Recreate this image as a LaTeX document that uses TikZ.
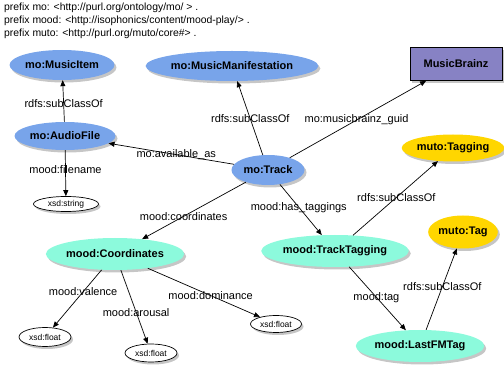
\documentclass[tikz,border=0pt]{standalone}
\usepackage{fontspec}
\setmainfont{Liberation Sans}
\usetikzlibrary{positioning,arrows.meta,shapes.geometric,shadows}
\definecolor{moblue}{RGB}{120,164,234}
\definecolor{moodmint}{RGB}{140,250,220}
\definecolor{mutogold}{RGB}{255,214,0}
\definecolor{mbpurple}{RGB}{135,130,196}

\begin{document}
\begin{tikzpicture}[
  x=1pt, y=-1pt,
  every node/.style={font=\fontsize{11}{13}\selectfont},
  dropsh/.style={drop shadow={shadow xshift=2pt, shadow yshift=-2.5pt, opacity=0.45}},
  cls/.style={ellipse, inner sep=0pt, font=\fontsize{11}{13}\selectfont\bfseries, dropsh},
  mocls/.style={cls, fill=moblue},
  moodcls/.style={cls, fill=moodmint},
  mutocls/.style={cls, fill=mutogold},
  lit/.style={ellipse, draw, fill=white, inner sep=0pt, line width=0.7pt,
              font=\fontsize{8.5}{10}\selectfont, dropsh},
  ext/.style={rectangle, draw, fill=mbpurple, inner sep=0pt, line width=0.7pt,
              font=\fontsize{11}{13}\selectfont\bfseries, dropsh},
  rel/.style={-{Triangle[length=6pt,width=5pt]}, line width=0.7pt},
  lbl/.style={inner sep=0pt},
  pfx/.style={anchor=west, inner sep=0pt, font=\fontsize{10.4}{12}\selectfont}
]
  \useasboundingbox (0,0) rectangle (504,366);

  % prefixes
  \node[pfx] (pmo)   at (4,8)  {prefix mo: <http://purl.org/ontology/mo/ > .};
  \node[pfx] (pmood) at (4,21) {prefix mood: <http://isophonics/content/mood-play/> .};
  \node[pfx] (pmuto) at (4,34) {prefix muto: <http://purl.org/muto/core\#> .};

  % classes
  \node[mocls, minimum width=105, minimum height=30] (item)   at (62,65)  {mo:MusicItem};
  \node[mocls, minimum width=165, minimum height=30] (manif)  at (232,66) {mo:MusicManifestation};
  \node[ext, minimum width=92, minimum height=33]    (mbz)    at (456,64) {MusicBrainz};
  \node[mocls, minimum width=101, minimum height=28] (audio)  at (65,136) {mo:AudioFile};
  \node[mocls, minimum width=73, minimum height=30]  (track)  at (268,170) {mo:Track};
  \node[mutocls, minimum width=100, minimum height=27] (tagging) at (453,148) {muto:Tagging};
  \node[mutocls, minimum width=60, minimum height=33]  (tag)   at (463,232) {muto:Tag};
  \node[moodcls, minimum width=135, minimum height=32] (coord)  at (115,254) {mood:Coordinates};
  \node[moodcls, minimum width=144, minimum height=32] (ttag)   at (335,251) {mood:TrackTagging};
  \node[moodcls, minimum width=125, minimum height=32] (lastfm) at (420,346) {mood:LastFMTag};

  % literals
  \node[lit, minimum width=65, minimum height=15] (str)    at (66,204)  {xsd:string};
  \node[lit, minimum width=52, minimum height=19] (fval)   at (45,337)  {xsd:float};
  \node[lit, minimum width=52, minimum height=18] (faro)   at (151,353) {xsd:float};
  \node[lit, minimum width=51, minimum height=17] (fdom)   at (276,324) {xsd:float};

  % properties
  \draw[rel] (audio) -- node[lbl, pos=0.43] (l1) {rdfs:subClassOf} (item);
  \draw[rel] (audio) -- node[lbl, pos=0.43] (l2) {mood:filename} (str);
  \draw[rel] (track) -- node[lbl, pos=0.49] (l3) {rdfs:subClassOf} (manif);
  \draw[rel] (track) -- node[lbl, pos=0.49] (l4) {mo:musicbrainz\_guid} (mbz);
  \draw[rel] (track) -- node[lbl, pos=0.46] (l5) {mo:available\_as} (audio);
  \draw[rel] (track) -- node[lbl, pos=0.6]  (l6) {mood:coordinates} (coord);
  \draw[rel] (track) -- node[lbl, pos=0.45] (l7) {mood:has\_taggings} (ttag);
  \draw[rel] (ttag) -- node[lbl, pos=0.51] (l8) {rdfs:subClassOf} (tagging);
  \draw[rel] (ttag) -- node[lbl, pos=0.48] (l9) {mood:tag} (lastfm);
  \draw[rel] (lastfm) -- node[lbl, pos=0.53] (l10) {rdfs:subClassOf} (tag);

  % mood axes
  \draw[rel] (coord) -- node[lbl, pos=0.38] (l11) {mood:valence} (fval);
  \draw[rel] (coord) -- node[lbl, pos=0.57] (l12) {mood:arousal} (faro);
  \draw[rel] (coord) -- node[lbl, pos=0.56] (l13) {mood:dominance} (fdom);
\end{tikzpicture}
\end{document}
